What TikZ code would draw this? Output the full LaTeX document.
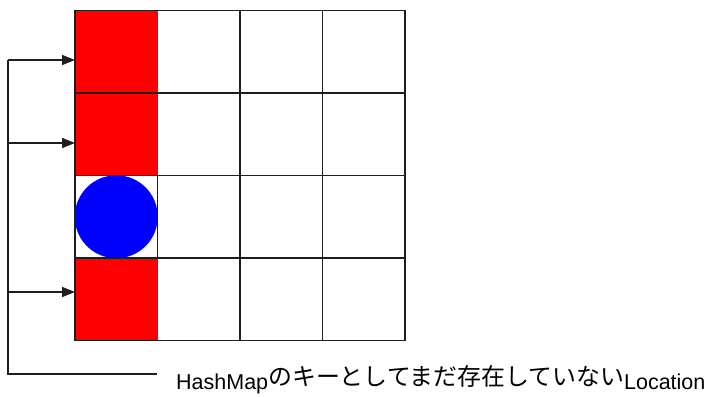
\documentclass[tikz,border=0pt]{standalone}
\usepackage{fontspec}
\setmainfont{Liberation Sans}
\newfontfamily\latin{Liberation Sans}
\newfontfamily\cjk{Noto Sans CJK JP}
\usetikzlibrary{arrows.meta}
\definecolor{linecol}{HTML}{1E1E1E}
\tikzset{
  cell/.style={rectangle, draw=none, minimum size=82.5pt, inner sep=0pt, outer sep=0pt},
  redcell/.style={cell, fill=red},
  gridline/.style={draw=linecol, line width=1.9pt},
  conn/.style={draw=linecol, line width=1.5pt},
  arr/.style={conn, -{Triangle[length=13pt, width=10pt]}},
}
\begin{document}
\begin{tikzpicture}[x=1pt, y=-1pt]
\useasboundingbox (0,0) rectangle (708,396);
% cells
\node[redcell] (c00) at (116.25,51.75) {};
\node[redcell] (c10) at (116.25,134.25) {};
\node[cell]    (c20) at (116.25,216.75) {};
\node[redcell] (c30) at (116.25,299.25) {};
\node[circle, fill=blue, draw=none, minimum size=83pt, inner sep=0pt] (ball) at (c20) {};
% grid lines
\foreach \y in {10.5,93,175.5,258,340.5} {
  \draw[gridline] (75,\y) -- (405,\y);
}
\foreach \x in {75,240,322.5,405} {
  \draw[gridline] (\x,10.5) -- (\x,340.5);
}
\draw[gridline] (157.5,175.5) -- (157.5,258);
% connectors
\coordinate (b0) at (8,60);
\coordinate (b1) at (8,143);
\coordinate (b3) at (8,292);
\coordinate (bend) at (8,374);
\coordinate (tail) at (157,374);
\draw[conn] (b0) -- (bend) -- (tail);
\draw[arr] (b0) -- ([yshift=-8.25pt]c00.west);
\draw[arr] (b1) -- ([yshift=-8.75pt]c10.west);
\draw[arr] (b3) -- ([yshift=7.25pt]c30.west);
% label
\node[anchor=base west, inner sep=0pt] (lbl) at (176,389)
  {\latin\fontsize{21.5}{22}\selectfont HashMap\raisebox{4pt}{\cjk\fontsize{23.9}{24}\selectfont のキーとしてまだ存在していない}Location};
\end{tikzpicture}
\end{document}
